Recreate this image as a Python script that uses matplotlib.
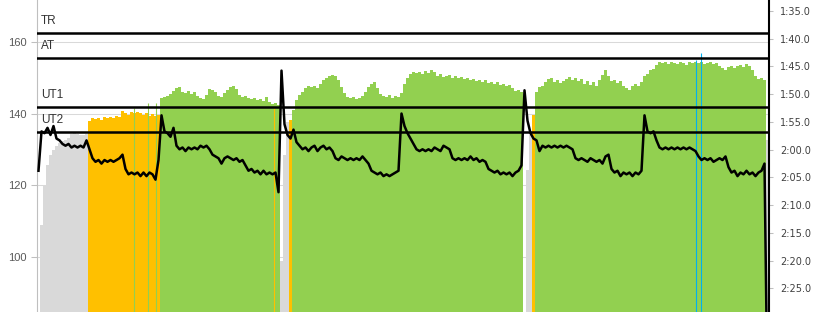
import numpy as np
import matplotlib.pyplot as plt

# Heart rate (bpm), one reading per sample
hr = [
    124, 135, 134.5, 136, 134, 136.5, 133, 132.5, 131.5, 131,          # 0-9
    131.5, 130.5, 131, 130.5, 131, 130.5, 132.5, 130, 127.5, 126.5,    # 10-19
    127, 126, 127, 126.5, 127, 126.5, 127, 127.5, 128.5, 124.5,        # 20-29
    123, 123.5, 123, 123.5, 122.5, 123.5, 122.5, 123.5, 123, 121.5,    # 30-39
    127, 139.5, 135, 134.5, 133.5, 136, 131, 130, 130.5, 129.5,        # 40-49
    130.5, 130, 130.5, 130, 131, 130.5, 131, 130, 128.5, 128,          # 50-59
    127.5, 126, 127.5, 128, 127.5, 127, 127.5, 126.5, 127, 125.5,      # 60-69
    124, 124.5, 123.5, 124, 123, 124, 123, 123.5, 123, 123.5,          # 70-79
    118, 152, 137, 134, 133, 135.5, 132, 131, 130, 130.5,              # 80-89
    129.5, 130.5, 131, 129.5, 130.5, 131, 130, 130.5, 129.5, 127.5,    # 90-99
    127, 128, 127.5, 127, 127.5, 127, 127.5, 127, 128, 127,            # 100-109
    126, 124, 123.5, 123, 123.5, 122.5, 123, 122.5, 123, 123.5,        # 110-119
    124, 140, 136.5, 134.5, 133, 131.5, 130, 129.5, 130, 129.5,        # 120-129
    130, 129.5, 130.5, 130, 129.5, 131, 130.5, 130, 127.5, 127,        # 130-139
    127.5, 127, 127.5, 127, 128, 127, 127.5, 126.5, 127, 126.5,        # 140-149
    124.5, 124, 123.5, 124, 123, 123.5, 123, 123.5, 122.5, 123.5,      # 150-159
    124, 125.5, 146.5, 138, 134.5, 133, 132.5, 129.5, 131, 130.5,      # 160-169
    131, 130.5, 131, 130.5, 131, 130.5, 131, 130.5, 130, 127.5,        # 170-179
    127, 127.5, 127, 126.5, 127.5, 127, 126.5, 127, 126, 128,          # 180-189
    128.5, 124.5, 123.5, 124, 122.5, 123.5, 123, 123.5, 122.5, 123.5,  # 190-199
    123, 124, 139.5, 135, 134.5, 135, 132.5, 130.5, 130, 130.5,        # 200-209
    130, 130.5, 130, 130.5, 130, 130.5, 130, 130.5, 130, 129.5,        # 210-219
    128, 127, 127.5, 127, 127.5, 126.5, 127, 127.5, 127, 128,          # 220-229
    125, 123.5, 124, 122.5, 123.5, 123, 124, 123, 123.5, 122.5,        # 230-239
    123.5, 124, 126, 60,                                               # 240-243
]

# Pace (seconds per 500 m), one reading per sample
pace = [
    150, 133.6, 126.4, 122.8, 121.0, 120.1, 119.4, 118.8, 118.5, 118.3,    # 0-9
    117.9, 117.2, 117.0, 117.2, 117.4, 117.4, 117.2, 114.9, 114.3, 114.5,  # 10-19
    114.3, 114.7, 114.1, 114.3, 114.1, 114.3, 113.9, 114.1, 113.1, 113.4,  # 20-29
    113.8, 113.2, 113.4, 113.2, 113.4, 113.8, 113.4, 113.9, 113.6, 113.9,  # 30-39
    113.8, 110.7, 110.5, 110.3, 110.0, 109.5, 108.9, 108.7, 109.6, 109.8,  # 40-49
    109.5, 110.0, 109.6, 110.3, 110.7, 110.9, 110.2, 109.1, 109.3, 109.6,  # 50-59
    110.3, 110.5, 109.8, 109.3, 108.7, 108.5, 109.1, 110.2, 110.5, 110.3,  # 60-69
    110.7, 110.9, 110.7, 111.1, 110.9, 111.3, 110.5, 111.4, 111.8, 111.6,  # 70-79
    112.0, 140.0, 121.0, 115.0, 114.7, 112.9, 111.1, 110.2, 109.6, 108.9,  # 80-89
    108.5, 108.7, 108.5, 108.9, 108.2, 107.5, 107.1, 106.7, 106.6, 106.7,  # 90-99
    107.5, 108.7, 109.8, 110.5, 110.7, 110.5, 110.9, 110.7, 110.3, 109.6,  # 100-109
    108.7, 108.2, 107.8, 108.9, 110.0, 110.3, 110.5, 110.2, 110.7, 110.3,  # 110-119
    110.5, 109.8, 108.2, 107.1, 106.4, 106.0, 106.2, 106.0, 106.4, 105.8,  # 120-129
    106.2, 105.6, 106.0, 106.7, 106.4, 106.9, 106.7, 106.6, 107.1, 106.7,  # 130-139
    107.1, 106.9, 107.3, 107.1, 107.5, 107.3, 107.6, 107.5, 107.8, 107.5,  # 140-149
    108.0, 107.8, 108.2, 107.8, 108.4, 108.2, 108.5, 108.4, 108.9, 109.5,  # 150-159
    109.3, 109.6, 150.0, 123.7, 117.4, 113.8, 109.6, 108.7, 108.5, 107.8,  # 160-169
    107.3, 107.1, 107.8, 107.5, 108.0, 107.6, 107.3, 106.9, 107.5, 107.1,  # 170-179
    107.6, 107.3, 108.2, 107.6, 108.4, 107.8, 108.5, 107.5, 106.6, 105.6,  # 180-189
    106.7, 107.6, 107.5, 108.0, 107.6, 108.5, 108.9, 109.3, 108.5, 108.2,  # 190-199
    108.5, 107.8, 106.7, 106.4, 105.6, 105.5, 104.7, 104.2, 104.4, 104.2,  # 200-209
    104.5, 104.2, 104.4, 104.5, 104.2, 104.4, 104.7, 104.2, 104.4, 104.2,  # 210-219
    104.4, 104.2, 104.5, 104.4, 104.2, 104.5, 104.4, 104.9, 105.3, 105.6,  # 220-229
    105.1, 104.9, 105.3, 104.9, 104.7, 105.1, 104.5, 104.9, 105.6, 106.7,  # 230-239
    107.3, 107.1, 107.5, 118.3,                                            # 240-243
]

# zone of each sample: r = rest, o = UT2, g = UT1
zones = (
    "rrrrrrrrrr" "rrrrrrrooo" "oooooooooo" "oooooooooo"
    "oggggggggg" "gggggggggg" "gggggggggg" "gggggggggg"
    "grrroggggg" "gggggggggg" "gggggggggg" "gggggggggg"
    "gggggggggg" "gggggggggg" "gggggggggg" "gggggggggg"
    "ggrrrogggg" "gggggggggg" "gggggggggg" "gggggggggg"
    "gggggggggg" "gggggggggg" "gggggggggg" "gggggggggg"
    "gggr"
)

# single-stroke readings (sample time, pace, zone)
spike_t = [32.4, 37.1, 39.7, 79.1, 219.6, 221.4]
spike_pace = [112.5, 111.6, 111.6, 112.5, 103.8, 102.6]
spike_zone = ["g", "g", "g", "o", "b", "b"]

# training bands (bpm)
band_names = ["TR", "AT", "UT1", "UT2"]
band_hr = [162.4, 155.4, 141.7, 134.8]

hr_ticks = [100, 120, 140, 160]
pace_ticks = [95, 100, 105, 110, 115, 120, 125, 130, 135, 140, 145]
pace_labels = ["1:35.0", "1:40.0", "1:45.0", "1:50.0", "1:55.0", "2:00.0",
               "2:05.0", "2:10.0", "2:15.0", "2:20.0", "2:25.0"]

zone_colors = {"r": "#d9d9d9", "o": "#ffc000", "g": "#92d050", "b": "#00b0f0"}

n = len(hr)
t = np.arange(n) + 0.5
base = 160  # bars start below the visible pace range

fig = plt.figure(figsize=(8.2, 3.12), dpi=100)
pos = [37 / 820, 0, 732 / 820, 1]

# background axes: HR scale, gridlines and left ticks
ax = fig.add_axes(pos)
ax.set_xlim(0, n)
ax.set_ylim(84.5, 171.75)
ax.set_xticks([])
ax.set_yticks(hr_ticks)
ax.grid(axis="y", color="#d9d9d9", lw=0.75)
for s in ["top", "right", "bottom"]:
    ax.spines[s].set_visible(False)
ax.spines["left"].set_color("#bfbfbf")
ax.tick_params(axis="y", length=4.3, width=0.75, color="#bfbfbf", pad=2.9,
               labelsize=8, labelcolor="#595959")
for lab in ax.get_yticklabels():
    lab.set_fontfamily("Liberation Sans")

# pace bars on the right axis
ax2 = ax.twinx()
ax2.set_zorder(1)
ax2.patch.set_visible(False)
cols = [zone_colors[z] for z in zones]
ax2.bar(t, np.array(pace) - base, bottom=base, width=1.0, color=cols,
        linewidth=0, antialiased=False)
ax2.vlines(spike_t, base, spike_pace, colors=[zone_colors[z] for z in spike_zone],
           lw=0.8)
ax2.set_ylim(149.28, 93.02)
ax2.set_yticks(pace_ticks, pace_labels)
for s in ["top", "left", "bottom"]:
    ax2.spines[s].set_visible(False)
ax2.spines["right"].set_color("black")
ax2.spines["right"].set_linewidth(1.5)
ax2.tick_params(axis="y", length=2.9, width=0.75, color="#bfbfbf", pad=5,
                labelsize=7, labelcolor="#404040")

# heart rate line and bands on top
ax3 = ax.twinx()
ax3.set_zorder(2)
ax3.patch.set_visible(False)
ax3.set_ylim(ax.get_ylim())
ax3.set_yticks([])
for s in ax3.spines.values():
    s.set_visible(False)
for name, lvl in zip(band_names, band_hr):
    ax3.axhline(lvl, color="black", lw=1.8)
    ax3.annotate(name, xy=(0, lvl), xycoords=("axes fraction", "data"),
                 xytext=(2.7, 6.8), textcoords="offset points", va="baseline",
                 fontsize=8.5, color="#333333", family="Liberation Sans")
ax3.plot(t, hr, color="black", lw=1.8)

fig.savefig("out.png", dpi=100)
